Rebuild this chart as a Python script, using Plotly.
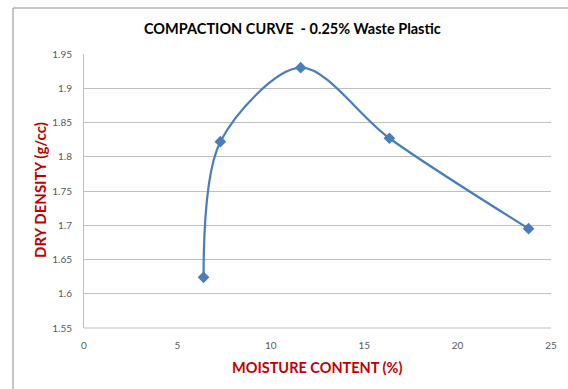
import plotly.graph_objects as go

moisture = [6.4, 7.3, 11.6, 16.35, 23.8]
density = [1.624, 1.822, 1.930, 1.827, 1.695]

title_text = "COMPACTION CURVE  - 0.25% Waste Plastic"
x_title = "MOISTURE CONTENT (%)"
y_title = "DRY DENSITY (g/cc)"

W, H = 568, 389
L, R, T, B = 84, 17, 54, 61
pw, ph = W - L - R, H - T - B

def px2x(p):
    return (p - L) / pw

def py2y(p):
    return (H - B - p) / ph

fig = go.Figure()
fig.add_trace(go.Scatter(
    x=moisture, y=density, mode="lines+markers",
    line=dict(color="#4a7ebb", width=2.25, shape="spline", smoothing=0.9),
    marker=dict(symbol="diamond", size=9, color="#4a7ebb"),
    showlegend=False,
))

font_family = "Lato, 'Open Sans', sans-serif"

fig.update_layout(
    width=W, height=H,
    margin=dict(l=L, r=R, t=T, b=B),
    paper_bgcolor="white", plot_bgcolor="white",
    font=dict(family=font_family, color="#595959", size=10),
    xaxis=dict(range=[0, 25], dtick=5, showgrid=False, zeroline=False,
               showline=False, ticks="", ticklabelstandoff=10,
               tickfont=dict(size=10, color="#595959")),
    yaxis=dict(range=[1.55, 1.95], dtick=0.05, showgrid=True, gridcolor="#bfbfbf",
               gridwidth=1, zeroline=False, showline=True, linecolor="#bfbfbf",
               ticks="", ticklabelstandoff=9,
               tickfont=dict(size=10, color="#595959")),
    shapes=[
        dict(type="rect", xref="paper", yref="paper",
             x0=px2x(13), x1=px2x(600), y0=py2y(420), y1=py2y(8),
             line=dict(color="#8c8c8c", width=1), fillcolor="rgba(0,0,0,0)",
             layer="below"),
        dict(type="line", xref="paper", yref="paper", x0=0, x1=1, y0=0, y1=0,
             line=dict(color="#bfbfbf", width=1)),
    ],
    annotations=[
        dict(text="<b>" + title_text + "</b>", xref="paper", yref="paper",
             x=px2x(292), y=py2y(29), showarrow=False,
             font=dict(size=14.5, color="#000000", family=font_family),
             xanchor="center", yanchor="middle"),
        dict(text="<b>" + x_title + "</b>", xref="paper", yref="paper",
             x=px2x(317), y=py2y(367), showarrow=False,
             font=dict(size=14.5, color="#c00000", family=font_family),
             xanchor="center", yanchor="middle"),
        dict(text="<b>" + y_title + "</b>", xref="paper", yref="paper",
             x=px2x(40), y=py2y(190), showarrow=False, textangle=-90,
             font=dict(size=15, color="#c00000", family=font_family),
             xanchor="center", yanchor="middle"),
    ],
)

fig.write_html("out.html")
